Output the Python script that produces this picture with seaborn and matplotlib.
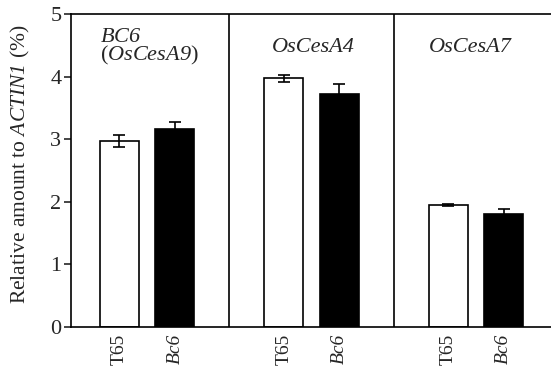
import matplotlib
matplotlib.use('Agg')
import matplotlib.pyplot as plt
import numpy as np
import pandas as pd
import seaborn as sns

sns.set_style('ticks')
plt.rcParams['font.family'] = 'serif'
plt.rcParams['font.serif'] = ['Liberation Serif', 'DejaVu Serif']
plt.rcParams['mathtext.fontset'] = 'custom'
# rm set to italic as well so digits inside $...$ come out italic too
plt.rcParams['mathtext.rm'] = 'Liberation Serif:italic'
plt.rcParams['mathtext.it'] = 'Liberation Serif:italic'

# data
genes = ['BC6', 'OsCesA4', 'OsCesA7']
genotypes = ['T65', 'Bc6']
t65_mean = [2.97, 3.97, 1.95]
t65_se = [0.09, 0.06, 0.02]
bc6_mean = [3.17, 3.72, 1.80]
bc6_se = [0.11, 0.16, 0.08]
yticks = [0, 1, 2, 3, 4, 5]

df = pd.DataFrame({
    'gene': genes * 2,
    'genotype': ['T65'] * 3 + ['Bc6'] * 3,
    'value': t65_mean + bc6_mean,
    'se': t65_se + bc6_se,
})

fig = plt.figure(figsize=(5.51, 3.74), dpi=100)
ax = fig.add_axes([0.129, 0.1257, 0.871, 0.8369])

sns.barplot(data=df, x='gene', y='value', hue='genotype', hue_order=genotypes,
            palette={'T65': 'white', 'Bc6': 'black'}, edgecolor='black',
            linewidth=1.2, width=0.675, gap=0.3, errorbar=None, legend=False,
            saturation=1, ax=ax)

# error bars (mean +/- SE) at the bar centres
centers = []
labels = []
for cont, g in zip(ax.containers, genotypes):
    sub = df[df['genotype'] == g]
    for bar, se in zip(cont, sub['se']):
        cx = bar.get_x() + bar.get_width() / 2
        h = bar.get_height()
        ax.errorbar(cx, h, yerr=se, color='black', elinewidth=1.2,
                    capsize=4, capthick=1.2, zorder=5)
        centers.append(cx)
        labels.append(g)

order = np.argsort(centers)
centers = [centers[i] for i in order]
labels = [labels[i] for i in order]

ax.axvline(0.5, color='black', lw=1.2)
ax.axvline(1.5, color='black', lw=1.2)

ax.set_xlim(-0.462, 2.456)
ax.set_ylim(0, 5)
ax.set_yticks(yticks)
ax.set_yticklabels([str(t) for t in yticks], fontsize=16)
ax.tick_params(axis='y', direction='out', length=5, width=1.2, pad=2)
ax.set_xticks(centers)
ax.set_xticklabels(labels, rotation=90, fontsize=14)
ax.tick_params(axis='x', length=0, pad=5)
for t in ax.get_xticklabels():
    if t.get_text() == 'Bc6':
        t.set_style('italic')

ax.set_xlabel('')
ax.set_ylabel(r'Relative amount to $ACTIN1$ (%)', fontsize=15.5)
ax.yaxis.set_label_coords(-0.082, 0.52)

for s in ['left', 'bottom', 'top']:
    ax.spines[s].set_linewidth(1.2)
    ax.spines[s].set_color('black')
ax.spines['right'].set_visible(False)

# gene names inside each panel
ax.text(-0.286, 4.25, '$BC6$\n($OsCesA9$)', fontsize=16, ha='left', va='baseline',
        linespacing=0.85)
ax.text(0.76, 4.39, 'OsCesA4', fontsize=16, style='italic', ha='left', va='baseline')
ax.text(1.714, 4.39, 'OsCesA7', fontsize=16, style='italic', ha='left', va='baseline')

plt.savefig('out.png', dpi=100)
